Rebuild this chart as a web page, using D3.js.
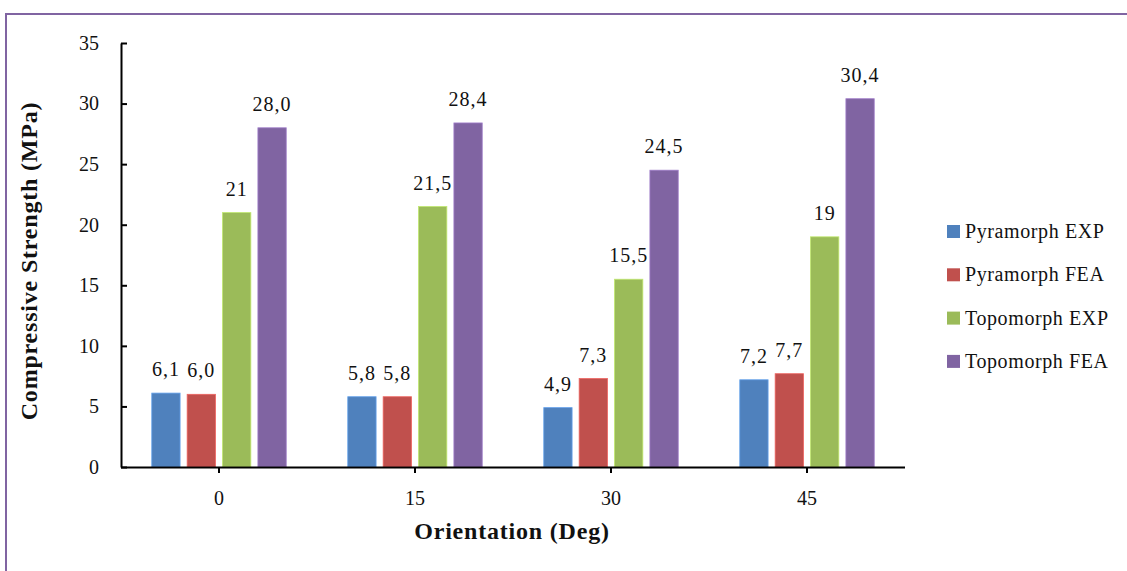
<!DOCTYPE html>
<html>
<head>
<meta charset="utf-8">
<script src="https://cdn.jsdelivr.net/npm/d3@7"></script>
<style>
  html, body { margin: 0; padding: 0; background: #fff; }
  svg { display: block; font-family: "Liberation Serif", "Times New Roman", serif; }
  svg text { font-family: "Liberation Serif", "Times New Roman", serif; }
</style>
</head>
<body>
<svg id="chart" width="1127" height="571"></svg>
<script>
// Orientation angles (degrees)
const categories = ["0", "15", "30", "45"];
const seriesNames = ["Pyramorph EXP", "Pyramorph FEA", "Topomorph EXP", "Topomorph FEA"];
const seriesColors = ["#4f81bd", "#c0504d", "#9bbb59", "#8064a2"];
// Compressive strength (MPa) per series, by orientation
const pyramorphExp = [6.1, 5.8, 4.9, 7.2];
const pyramorphFea = [6.0, 5.8, 7.3, 7.7];
const topomorphExp = [21, 21.5, 15.5, 19];
const topomorphFea = [28.0, 28.4, 24.5, 30.4];
// Displayed value labels
const pyramorphExpLabels = ["6,1", "5,8", "4,9", "7,2"];
const pyramorphFeaLabels = ["6,0", "5,8", "7,3", "7,7"];
const topomorphExpLabels = ["21", "21,5", "15,5", "19"];
const topomorphFeaLabels = ["28,0", "28,4", "24,5", "30,4"];
const yTicks = [0, 5, 10, 15, 20, 25, 30, 35];

const seriesValues = [pyramorphExp, pyramorphFea, topomorphExp, topomorphFea];
const seriesLabels = [pyramorphExpLabels, pyramorphFeaLabels, topomorphExpLabels, topomorphFeaLabels];

const svg = d3.select("#chart");

// Outer chart frame
svg.append("rect")
  .attr("x", 6).attr("y", 14)
  .attr("width", 1140).attr("height", 580)
  .attr("fill", "none")
  .attr("stroke", "#8064a2")
  .attr("stroke-width", 2);

const plotLeft = 121, plotRight = 905, plotTop = 43, plotBottom = 467;

const x0 = d3.scaleBand()
  .domain(categories)
  .range([plotLeft, plotRight])
  .paddingInner(0.278)
  .paddingOuter(0.139);

const x1 = d3.scaleBand()
  .domain(d3.range(seriesNames.length))
  .range([0, x0.bandwidth()])
  .paddingInner(0.2)
  .paddingOuter(0.1);

const y = d3.scaleLinear().domain([0, 35]).range([plotBottom, plotTop]);

// Bars
const groups = svg.append("g").selectAll("g")
  .data(categories)
  .join("g")
  .attr("transform", c => `translate(${x0(c)},0)`);

groups.each(function(c, ci) {
  const g = d3.select(this);
  seriesValues.forEach((vals, si) => {
    g.append("rect")
      .attr("x", x1(si))
      .attr("y", y(vals[ci]))
      .attr("width", x1.bandwidth())
      .attr("height", y(0) - y(vals[ci]))
      .attr("fill", seriesColors[si])
      .attr("stroke", d3.color(seriesColors[si]).brighter(0.6))
      .attr("stroke-width", 0.8);
    g.append("text")
      .attr("x", x1(si) + x1.bandwidth() / 2)
      .attr("y", y(vals[ci]) - 17)
      .attr("text-anchor", "middle")
      .attr("font-size", 20)
      .attr("letter-spacing", 1)
      .attr("fill", "#111")
      .text(seriesLabels[si][ci]);
  });
});

// Y axis
const yAxis = d3.axisLeft(y).tickValues(yTicks).tickSize(6).tickSizeOuter(0).tickPadding(16);
const yg = svg.append("g").attr("transform", `translate(${plotLeft},0)`).call(yAxis);
yg.selectAll(".tick line").attr("transform", "translate(6,0)").attr("stroke", "#000").attr("stroke-width", 2);
yg.select(".domain").attr("stroke", "#000").attr("stroke-width", 2);
yg.selectAll("text").attr("font-size", 20).attr("fill", "#111");

// X axis
const xAxis = d3.axisBottom(x0).tickSize(6).tickSizeOuter(0).tickPadding(18);
const xg = svg.append("g").attr("transform", `translate(0,${plotBottom})`).call(xAxis);
xg.select(".domain").attr("d", `M${plotLeft},0.5H${plotRight}`).attr("stroke", "#000").attr("stroke-width", 2);
xg.selectAll(".tick line").attr("stroke", "#000").attr("stroke-width", 2);
xg.selectAll("text").attr("font-size", 20).attr("fill", "#111");

// Axis titles
svg.append("text")
  .attr("x", 512).attr("y", 539)
  .attr("text-anchor", "middle")
  .attr("font-size", 24).attr("font-weight", "bold")
  .attr("letter-spacing", 0.8)
  .attr("fill", "#111")
  .text("Orientation (Deg)");

svg.append("text")
  .attr("transform", "translate(37,261) rotate(-90)")
  .attr("text-anchor", "middle")
  .attr("font-size", 24).attr("font-weight", "bold")
  .attr("letter-spacing", 0.8)
  .attr("fill", "#111")
  .text("Compressive Strength (MPa)");

// Legend
const legend = svg.append("g").attr("transform", "translate(947,225)");
seriesNames.forEach((name, i) => {
  const row = legend.append("g").attr("transform", `translate(0,${i * 43.3})`);
  row.append("rect").attr("x", 0).attr("y", 0).attr("width", 13).attr("height", 13)
    .attr("fill", seriesColors[i]);
  row.append("text").attr("x", 18).attr("y", 13)
    .attr("font-size", 20).attr("letter-spacing", 0.6).attr("fill", "#111")
    .text(name);
});
</script>
</body>
</html>
